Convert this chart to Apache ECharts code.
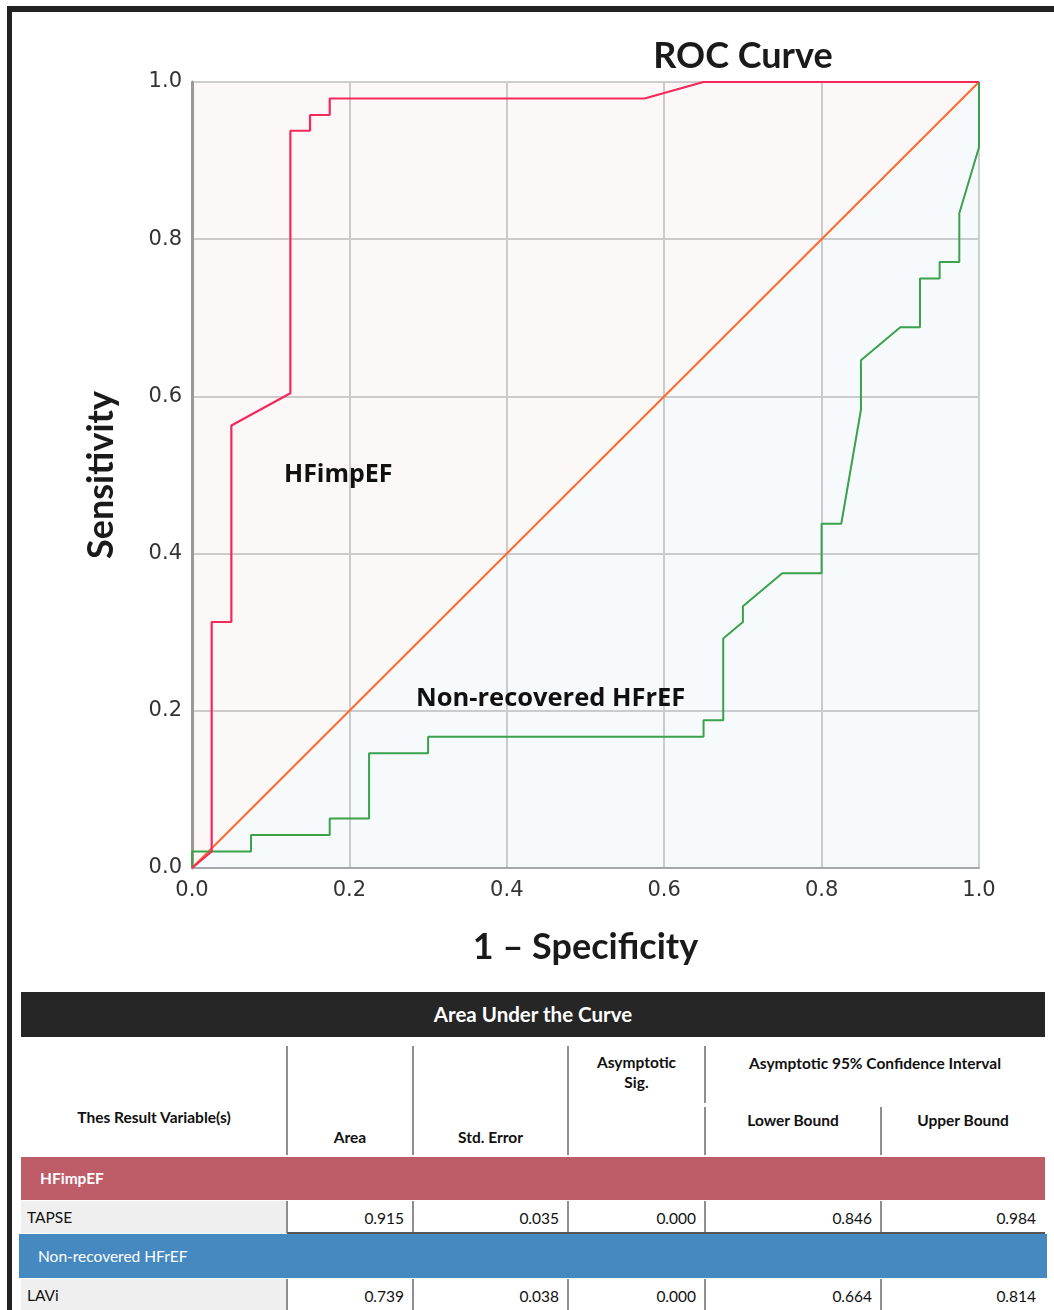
<!DOCTYPE html>
<html>
<head>
<meta charset="utf-8">
<title>ROC Curve</title>
<script src="https://cdn.jsdelivr.net/npm/echarts@6/dist/echarts.min.js"></script>
<style>
  html, body { margin: 0; padding: 0; background: #fff; }
  #page { position: relative; width: 1054px; height: 1310px; overflow: hidden; font-family: Lato, "Open Sans", sans-serif; }
  #frame { position: absolute; left: 7px; top: 6px; width: 1060px; height: 1320px; border-left: 5px solid #222; border-top: 6px solid #222; }
  #chart { position: absolute; left: 0; top: 0; width: 1054px; height: 980px; }
  .cell { position: absolute; box-sizing: border-box; white-space: nowrap; }
  .vline { position: absolute; width: 2px; background: #8e8e8e; }
</style>
</head>
<body>
<div id="page">
  <div id="frame"></div>
  <div id="chart"></div>
  <div id="table"></div>
</div>
<script>
  // ROC curve points (1 - specificity, sensitivity)
  const diagFpr = [0, 1];
  const diagTpr = [0, 1];

  const hfimpefFpr = [0, 0.025, 0.025, 0.050, 0.050, 0.125, 0.125, 0.150, 0.150, 0.175, 0.175, 0.575, 0.650, 1.000];
  const hfimpefTpr = [0, 0.021, 0.313, 0.313, 0.563, 0.604, 0.938, 0.938, 0.958, 0.958, 0.979, 0.979, 1.000, 1.000];

  const nonrecFpr = [0, 0, 0.075, 0.075, 0.175, 0.175, 0.225, 0.225, 0.300, 0.300, 0.650, 0.650, 0.675, 0.675, 0.700, 0.700,
    0.750, 0.800, 0.800, 0.825, 0.850, 0.850, 0.900, 0.925, 0.925, 0.950, 0.950, 0.975, 0.975, 1.000, 1.000];
  const nonrecTpr = [0, 0.021, 0.021, 0.042, 0.042, 0.063, 0.063, 0.146, 0.146, 0.167, 0.167, 0.188, 0.188, 0.292, 0.313, 0.333,
    0.375, 0.375, 0.438, 0.438, 0.583, 0.646, 0.688, 0.688, 0.750, 0.750, 0.771, 0.771, 0.833, 0.917, 1.000];

  const axisTicks = ['0.0', '0.2', '0.4', '0.6', '0.8', '1.0'];

  // Area Under the Curve table
  const aucColumns = ['Area', 'Std. Error', 'Asymptotic Sig.', 'Lower Bound', 'Upper Bound'];
  const groupNames = ['HFimpEF', 'Non-recovered HFrEF'];
  const testVars = ['TAPSE', 'LAVi'];
  const aucArea = ['0.915', '0.739'];
  const aucStdErr = ['0.035', '0.038'];
  const aucSig = ['0.000', '0.000'];
  const aucLower = ['0.846', '0.664'];
  const aucUpper = ['0.984', '0.814'];

  function pairs(xs, ys) {
    return xs.map(function (x, i) { return [x, ys[i]]; });
  }

  const chart = echarts.init(document.getElementById('chart'));
  const tickFont = 'DejaVu Sans';
  const boldText = { fontFamily: 'Lato', fontWeight: 'bold', fontSize: 36, color: '#1a1a1a' };

  chart.setOption({
    animation: false,
    title: {
      text: 'ROC Curve',
      left: 738,
      top: 33,
      textAlign: 'center',
      textStyle: boldText
    },
    grid: { left: 192, top: 82, width: 787, height: 786 },
    xAxis: {
      type: 'value', min: 0, max: 1, interval: 0.2,
      name: '1 \u2013 Specificity',
      nameLocation: 'middle',
      nameGap: 61,
      nameTextStyle: boldText,
      axisLine: { lineStyle: { color: '#a8a8a8', width: 2 } },
      axisTick: { show: false },
      axisLabel: {
        margin: 12, fontFamily: tickFont, fontSize: 21, color: '#333',
        formatter: function (v) { return axisTicks[Math.round(v * 5)]; }
      },
      splitLine: { lineStyle: { color: '#cfcfcf', width: 2 } }
    },
    yAxis: {
      type: 'value', min: 0, max: 1, interval: 0.2,
      name: 'Sensitivity',
      nameLocation: 'middle',
      nameGap: 73,
      nameTextStyle: boldText,
      axisLine: { show: true, lineStyle: { color: '#9a9a9a', width: 3 } },
      axisTick: { show: false },
      axisLabel: {
        margin: 10, fontFamily: tickFont, fontSize: 21, color: '#333',
        padding: [4, 0, 0, 0],
        formatter: function (v) { return axisTicks[Math.round(v * 5)]; }
      },
      splitLine: { lineStyle: { color: '#cfcfcf', width: 2 } }
    },
    graphic: [
      {
        type: 'text', x: 284, y: 475, z: 100,
        style: { text: 'HFimpEF', fontFamily: 'Open Sans', fontWeight: 'bold', fontSize: 25, fill: '#111', verticalAlign: 'middle' }
      },
      {
        type: 'text', x: 416, y: 699, z: 100,
        style: { text: 'Non-recovered HFrEF', fontFamily: 'Open Sans', fontWeight: 'bold', fontSize: 25.5, fill: '#111', verticalAlign: 'middle' }
      }
    ],
    series: [
      {
        name: 'upper', type: 'line', silent: true, symbol: 'none', z: 1,
        data: pairs(diagFpr, diagTpr),
        lineStyle: { width: 0 },
        areaStyle: { color: 'rgba(220,130,130,0.085)', origin: 'end' }
      },
      {
        name: 'lower', type: 'line', silent: true, symbol: 'none', z: 1,
        data: pairs(diagFpr, diagTpr),
        lineStyle: { width: 0 },
        areaStyle: { color: 'rgba(105,155,205,0.08)', origin: 'start' }
      },
      {
        name: 'Reference', type: 'line', symbol: 'none', z: 3,
        data: pairs(diagFpr, diagTpr),
        lineStyle: { color: '#ff6a2b', width: 2 }
      },
      {
        name: 'Non-recovered HFrEF', type: 'line', symbol: 'none', z: 4,
        data: pairs(nonrecFpr, nonrecTpr),
        lineStyle: { color: '#3aa24a', width: 2 }
      },
      {
        name: 'HFimpEF', type: 'line', symbol: 'none', z: 5,
        data: pairs(hfimpefFpr, hfimpefTpr),
        lineStyle: { color: '#f5285c', width: 2.2 }
      }
    ]
  });

  // table under the chart
  const colEdges = [21, 287, 413, 568, 705, 881, 1045];
  const table = document.getElementById('table');
  let html = '';
  function cell(left, top, width, height, text, css) {
    html += '<div class="cell" style="left:' + left + 'px;top:' + top + 'px;width:' + width + 'px;height:' + height + 'px;' + (css || '') + '">' + text + '</div>';
  }
  function vline(x, top, bottom) {
    html += '<div class="vline" style="left:' + (x - 1) + 'px;top:' + top + 'px;height:' + (bottom - top) + 'px"></div>';
  }
  const hdr = 'font-weight:bold;font-size:15.5px;color:#111;text-align:center;';

  cell(21, 992, 1024, 45, 'Area Under the Curve',
    'background:#262626;color:#fff;font-weight:bold;font-size:20.5px;line-height:45px;text-align:center;');

  cell(colEdges[0], 1105, colEdges[1] - colEdges[0], 24, 'Thes Result Variable(s)', hdr + 'line-height:24px;');
  cell(colEdges[1], 1125, colEdges[2] - colEdges[1], 24, aucColumns[0], hdr + 'line-height:24px;');
  cell(colEdges[2], 1125, colEdges[3] - colEdges[2], 24, aucColumns[1], hdr + 'line-height:24px;');
  cell(colEdges[3], 1053, colEdges[4] - colEdges[3], 40, aucColumns[2].replace(' ', '<br>'), hdr + 'line-height:19.5px;');
  cell(colEdges[4], 1051, colEdges[6] - colEdges[4], 24, 'Asymptotic 95% Confidence Interval', hdr + 'line-height:24px;');
  cell(colEdges[4], 1108, colEdges[5] - colEdges[4], 24, aucColumns[3], hdr + 'line-height:24px;');
  cell(colEdges[5], 1108, colEdges[6] - colEdges[5], 24, aucColumns[4], hdr + 'line-height:24px;');

  vline(colEdges[1], 1046, 1155);
  vline(colEdges[2], 1046, 1155);
  vline(colEdges[3], 1046, 1155);
  vline(colEdges[4], 1046, 1103);
  vline(colEdges[4], 1107, 1155);
  vline(colEdges[5], 1107, 1155);

  const groupTops = [1157, 1234];
  const groupColors = ['#be5c67', '#4689c0'];
  const groupWeights = ['bold', 'normal'];
  const values = [aucArea, aucStdErr, aucSig, aucLower, aucUpper];

  groupNames.forEach(function (g, i) {
    const gTop = groupTops[i];
    const gH = i === 0 ? 43 : 44;
    cell(i === 0 ? 21 : 19, gTop, i === 0 ? 1024 : 1028, gH, g,
      'background:' + groupColors[i] + ';color:#fff;font-size:15.5px;font-weight:' + groupWeights[i] + ';line-height:' + gH + 'px;padding-left:19px;');
    const rTop = gTop + gH + 1;
    const rH = 32;
    cell(colEdges[0], rTop, colEdges[1] - colEdges[0], rH, testVars[i],
      'background:#efefef;color:#111;font-size:15.5px;line-height:' + rH + 'px;padding-left:6px;');
    values.forEach(function (col, c) {
      cell(colEdges[c + 1], rTop, colEdges[c + 2] - colEdges[c + 1], rH, col[i],
        'color:#111;font-size:15.5px;line-height:' + (rH + 2) + 'px;text-align:right;padding-right:9px;');
    });
    for (let c = 1; c < colEdges.length - 1; c++) vline(colEdges[c], rTop, rTop + rH);
    html += '<div style="position:absolute;left:' + colEdges[1] + 'px;top:' + (rTop + rH - 1) + 'px;width:' + (colEdges[6] - colEdges[1]) + 'px;height:2px;background:#555"></div>';
  });

  table.innerHTML = html;
</script>
</body>
</html>
